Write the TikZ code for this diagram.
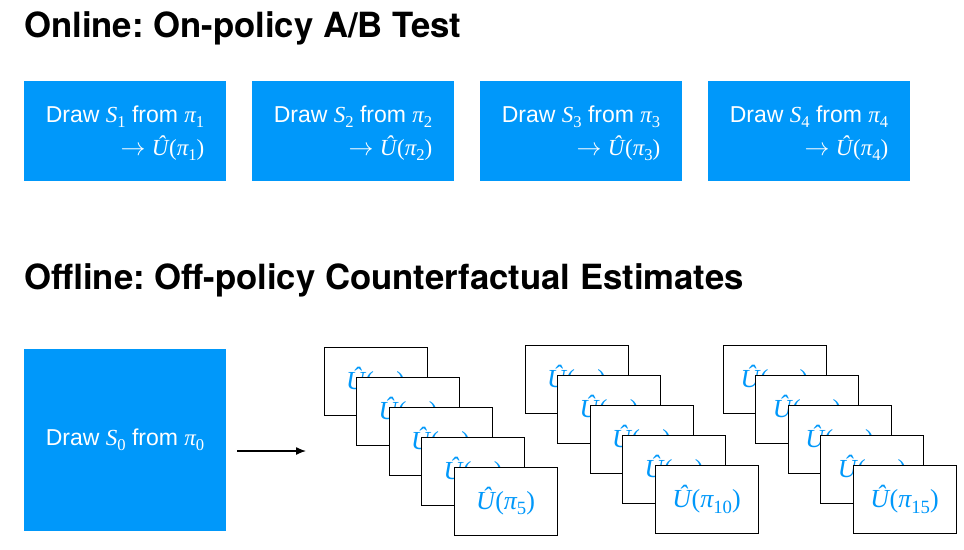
\documentclass[tikz,border=0pt]{standalone}
\usepackage{fontspec}
\usepackage{graphicx}
\setmainfont{Liberation Sans}
\newfontfamily\titlefont{TeX Gyre Heros}
\newfontfamily\mfont{Liberation Serif}
\definecolor{kblue}{RGB}{0,152,250}
\newcommand\subn[1]{\raisebox{-0.22em}{\scalebox{0.72}{\mfont #1}}}
\newcommand\mS[1]{{\mfont\itshape S}\subn{#1}}
\newcommand\mpi[1]{{\mfont\itshape π}\subn{#1}}
\newcommand\mU[1]{{\mfont\itshape Û}\kern0.5pt{\mfont(}\mpi{#1}{\mfont)}}
\newcommand\toarrow{$\rightarrow$}
\frenchspacing
\tikzset{
  ttl/.style={anchor=base west, inner sep=0pt, font=\titlefont\bfseries\fontsize{34.7}{38}\selectfont},
  bluebox/.style={fill=kblue, draw=none, text=white, minimum width=202pt, inner sep=0pt,
     font=\fontsize{23}{33}\selectfont},
  card/.style={fill=white, draw=black, line width=1pt, minimum width=103pt, minimum height=68pt,
     inner sep=0pt, text=kblue, font=\fontsize{26}{30}\selectfont},
  conn/.style={-{Latex[length=10pt,width=8pt]}, line width=1.3pt}
}
\usetikzlibrary{arrows.meta}
\begin{document}
\begin{tikzpicture}[x=1pt,y=-1pt]
\useasboundingbox (0,0) rectangle (964,549);
\node[ttl] (t1) at (24,37) {Online: On-policy A/B Test};
\node[ttl] (t2) at (24,289) {Offline: Off-policy Counterfactual Estimates};
\foreach \i/\x in {1/125,2/353,3/581,4/809}{
  \node[bluebox, minimum height=100pt] (b\i) at (\x,131) {};
  \node[text=white, font=\fontsize{23}{33}\selectfont, align=right, inner sep=0pt] (bt\i) at (\x,133)
    {Draw \mS{\i} from \mpi{\i}\\ \toarrow\ \mU{\i}};
}
\node[bluebox, minimum height=182pt] (s0) at (125,440) {Draw \mS{0} from \mpi{0}};
\coordinate (a1) at (237,451);
\coordinate (a2) at (306,451);
\draw[conn] (a1) -- (a2);
\foreach \s/\sx/\sy in {0/375.5/381,1/576.5/379.5,2/774.5/379.5}{
  \foreach \k in {0,...,4}{
    \pgfmathtruncatemacro\n{\s*5+\k+1}
    \node[card] (c\n) at ({\sx+32.5*\k},{\sy+30*\k}) {\mU{\n}};
  }
}
\end{tikzpicture}
\end{document}
